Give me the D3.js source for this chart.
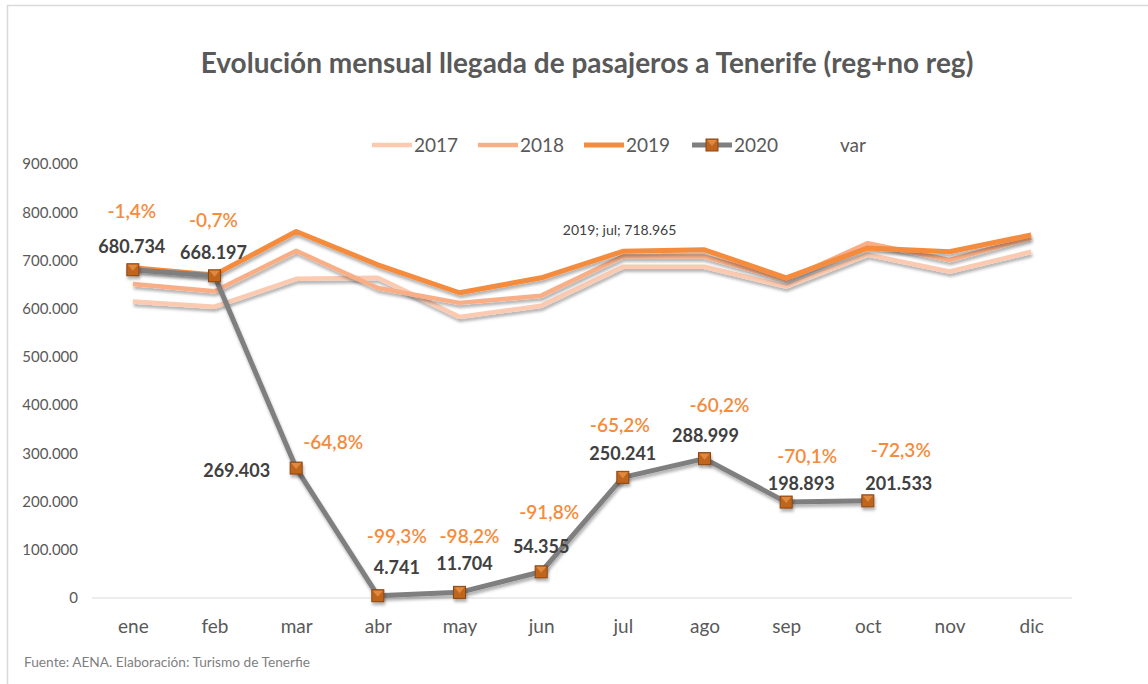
<!DOCTYPE html>
<html>
<head>
<meta charset="utf-8">
<script src="https://cdn.jsdelivr.net/npm/d3@7"></script>
<style>
  body { margin: 0; background: #fff; }
  svg { font-family: Lato, "Open Sans", sans-serif; }
</style>
</head>
<body>
<svg id="chart"></svg>
<script>
// chart data
const months = ["ene", "feb", "mar", "abr", "may", "jun", "jul", "ago", "sep", "oct", "nov", "dic"];
const s2017 = [615000, 604000, 662000, 664000, 583000, 606000, 687000, 687000, 646000, 712000, 677000, 718000];
const s2018 = [651000, 636000, 720000, 643000, 612000, 627000, 708000, 708000, 660000, 736000, 701000, 747000];
const s2019 = [685000, 670000, 760000, 691000, 633000, 664000, 718965, 722000, 664000, 726000, 718000, 753000];
const s2020 = [680734, 668197, 269403, 4741, 11704, 54355, 250241, 288999, 198893, 201533, null, null];
const variation = [-1.4, -0.7, -64.8, -99.3, -98.2, -91.8, -65.2, -60.2, -70.1, -72.3, null, null];
const yTicks = [0, 100000, 200000, 300000, 400000, 500000, 600000, 700000, 800000, 900000];

// label placement (moved by hand in the original)
const valDx = [-1, -1, -26, 19, 5, 0, 0, 1, 15, 31];
const valDy = [-17, -17, 9, -22, -22, -19, -17, -17, -12, -11];
const pctDx = [-1, -1, 37, 19, 10, 8, -3, 15, 21, 33];
const pctDy = [-52, -49, -19, -53, -49, -53, -45, -47, -39, -44];

const W = 1148, H = 684;
const svg = d3.select("#chart").attr("width", W).attr("height", H);

const fmt = d3.formatLocale({ decimal: ",", thousands: ".", grouping: [3], currency: ["", "€"], minus: "-" });
const numFmt = fmt.format(",d");
const pctFmt = v => fmt.format(".1f")(v) + "%";

const defs = svg.append("defs");
defs.append("filter").attr("id", "shadow")
    .attr("x", "-5%").attr("y", "-20%").attr("width", "110%").attr("height", "140%")
  .append("feDropShadow")
    .attr("dx", 1).attr("dy", 3).attr("stdDeviation", 1.6)
    .attr("flood-color", "#000").attr("flood-opacity", 0.3);

// outer frame
svg.append("path")
    .attr("d", `M7.5,${H} L7.5,5.5 L${W},5.5`)
    .attr("fill", "none").attr("stroke", "#d9d9d9").attr("stroke-width", 1.5);

svg.append("text")
    .attr("x", 587).attr("y", 73)
    .attr("text-anchor", "middle")
    .attr("font-size", 28).attr("font-weight", "bold")
    .attr("fill", "#595959")
    .text("Evolución mensual llegada de pasajeros a Tenerife (reg+no reg)");

const x = d3.scalePoint().domain(months).range([92, 1072]).padding(0.5);
const y = d3.scaleLinear().domain([0, 900000]).range([598, 164]);

// y axis labels
const yAxis = svg.append("g")
    .attr("transform", "translate(78,0)")
    .call(d3.axisLeft(y).tickValues(yTicks).tickSize(0).tickPadding(0).tickFormat(numFmt));
yAxis.select(".domain").remove();
yAxis.selectAll("text").attr("font-size", 15).attr("fill", "#595959").attr("font-family", "Lato, sans-serif");

// x axis
const xAxis = svg.append("g")
    .attr("transform", "translate(0,598)")
    .call(d3.axisBottom(x).tickSize(0).tickPadding(22));
xAxis.select(".domain").attr("d", "M92,0H1072").attr("stroke", "#d9d9d9").attr("stroke-width", 1);
xAxis.selectAll("text").attr("font-size", 19).attr("fill", "#595959").attr("font-family", "Lato, sans-serif");

const series = [
  { name: "2017", values: s2017, color: "#fccab0", width: 4.5 },
  { name: "2018", values: s2018, color: "#f9ae86", width: 4.5 },
  { name: "2019", values: s2019, color: "#f58b3c", width: 5 },
  { name: "2020", values: s2020, color: "#7f7f7f", width: 5 }
];

const line = d3.line()
    .defined(d => d.v != null)
    .x(d => x(d.m))
    .y(d => y(d.v));

const plot = svg.append("g");
series.forEach(s => {
  plot.append("path")
      .datum(months.map((m, i) => ({ m, v: s.values[i] })))
      .attr("d", line)
      .attr("fill", "none")
      .attr("stroke", s.color)
      .attr("stroke-width", s.width)
      .attr("stroke-linejoin", "round")
      .attr("filter", "url(#shadow)");
});

function marker(g, cx, cy) {
  const r = 6;
  g.append("rect")
      .attr("x", cx - r).attr("y", cy - r).attr("width", 2 * r).attr("height", 2 * r)
      .attr("fill", "#c0651f").attr("stroke", "#8a4512").attr("stroke-width", 1);
  g.append("path")
      .attr("d", `M${cx - r + 1},${cy - r + 1} L${cx},${cy + 1} L${cx + r - 1},${cy - r + 1} Z`)
      .attr("fill", "#e08a3e");
}

const pts = months.map((m, i) => ({ m, v: s2020[i], p: variation[i], i })).filter(d => d.v != null);
const mk = svg.append("g").attr("filter", "url(#shadow)");
pts.forEach(d => marker(mk, x(d.m), y(d.v)));

// value labels
svg.append("g").selectAll("text")
  .data(pts).join("text")
    .attr("x", d => x(d.m) + valDx[d.i])
    .attr("y", d => y(d.v) + valDy[d.i])
    .attr("text-anchor", d => d.i === 2 ? "end" : "middle")
    .attr("font-size", 18).attr("font-weight", "bold")
    .attr("fill", "#404040")
    .text(d => numFmt(d.v));

// variation labels
svg.append("g").selectAll("text")
  .data(pts).join("text")
    .attr("x", d => x(d.m) + pctDx[d.i])
    .attr("y", d => y(d.v) + pctDy[d.i])
    .attr("text-anchor", "middle")
    .attr("font-size", 19).attr("font-weight", 600)
    .attr("fill", "#f58b3c")
    .text(d => pctFmt(d.p));

// callout for 2019 jul
svg.append("text")
    .attr("x", x("jul") - 60).attr("y", 235)
    .attr("font-size", 14).attr("fill", "#404040")
    .text(`2019; jul; ${numFmt(s2019[6])}`);

// legend
const legendX = [372, 478, 584, 692];
const lg = svg.append("g").attr("transform", "translate(0,145)");
series.forEach((s, i) => {
  const g = lg.append("g").attr("transform", `translate(${legendX[i]},0)`);
  g.append("line").attr("x1", 0).attr("x2", 40)
      .attr("stroke", s.color).attr("stroke-width", s.width);
  if (s.name === "2020") marker(g, 20, 0);
  g.append("text").attr("x", 42).attr("y", 7)
      .attr("font-size", 19).attr("fill", "#595959").text(s.name);
});
lg.append("text").attr("x", 840).attr("y", 7)
    .attr("font-size", 19).attr("fill", "#595959").text("var");

svg.append("text")
    .attr("x", 24).attr("y", 667)
    .attr("font-size", 13.7).attr("fill", "#7f7f7f")
    .text("Fuente: AENA. Elaboración: Turismo de Tenerfie");
</script>
</body>
</html>
